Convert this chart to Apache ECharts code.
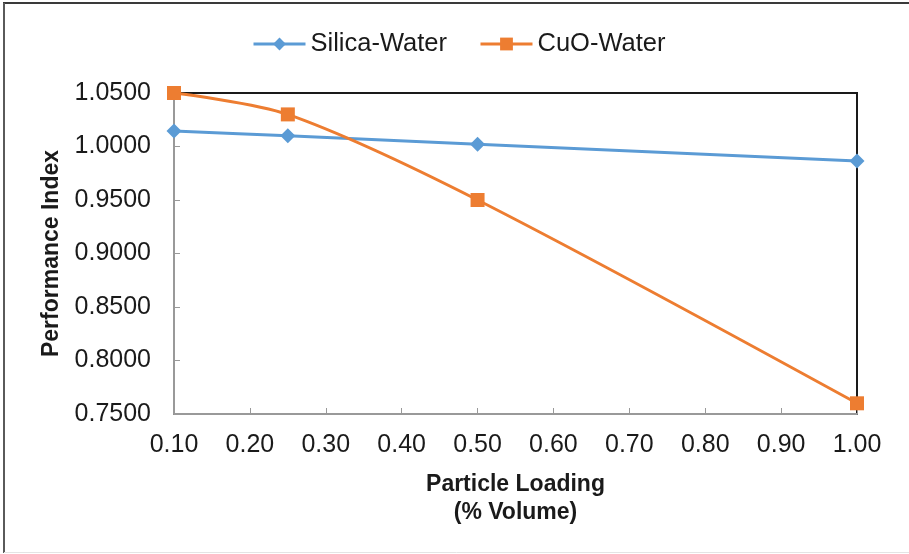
<!DOCTYPE html>
<html>
<head>
<meta charset="utf-8">
<script src="https://cdn.jsdelivr.net/npm/echarts@6/dist/echarts.min.js"></script>
<style>
  html, body { margin: 0; padding: 0; background: #fff; }
  #chart { width: 909px; height: 554px; }
</style>
</head>
<body>
<div id="chart"></div>
<script>
// Particle loading (% volume) and performance index for each nanofluid
const loading = [0.10, 0.25, 0.50, 1.00];
const silicaWater = [1.0145, 1.0100, 1.0020, 0.9865];
const cuoWater = [1.0500, 1.0300, 0.9500, 0.7600];
const seriesNames = ['Silica-Water', 'CuO-Water'];

const pairs = (xs, ys) => xs.map((x, i) => [x, ys[i]]);
const font = '"Liberation Sans", Arial, sans-serif';

const chart = echarts.init(document.getElementById('chart'), null, { renderer: 'canvas' });
chart.setOption({
  animation: false,
  backgroundColor: '#fff',
  graphic: [
    { type: 'line', shape: { x1: 3, y1: 3, x2: 909, y2: 3 }, style: { stroke: '#3a3a3a', lineWidth: 2 }, silent: true },
    { type: 'line', shape: { x1: 4, y1: 3, x2: 4, y2: 553 }, style: { stroke: '#5a5a5a', lineWidth: 2 }, silent: true },
    { type: 'line', shape: { x1: 4, y1: 552.5, x2: 909, y2: 552.5 }, style: { stroke: '#e4e4e4', lineWidth: 1 }, silent: true }
  ],
  legend: {
    top: 26,
    left: 247,
    itemWidth: 52,
    itemHeight: 16,
    itemGap: 32,
    lineStyle: { width: 3 },
    textStyle: { fontFamily: font, fontSize: 25.5, color: '#1a1a1a', padding: [0, 0, 0, 0] },
    data: seriesNames
  },
  grid: {
    left: 174, right: 52, top: 93, bottom: 140,
    show: true, borderColor: '#1a1a1a', borderWidth: 2
  },
  xAxis: {
    type: 'value',
    min: 0.1, max: 1.0, interval: 0.1,
    name: 'Particle Loading\n(% Volume)',
    nameLocation: 'middle',
    nameGap: 57,
    nameTextStyle: { fontFamily: font, fontSize: 23, fontWeight: 'bold', color: '#1a1a1a', lineHeight: 28, verticalAlign: 'top' },
    axisLine: { show: true, lineStyle: { color: '#999', width: 2 } },
    axisTick: { show: true, inside: true, length: 6, lineStyle: { color: '#999', width: 1 } },
    axisLabel: { fontFamily: font, fontSize: 25, color: '#1a1a1a', margin: 19, formatter: v => v.toFixed(2) },
    splitLine: { show: false }
  },
  yAxis: {
    type: 'value',
    min: 0.75, max: 1.05, interval: 0.05,
    name: 'Performance Index',
    nameLocation: 'middle',
    nameGap: 108,
    nameRotate: 90,
    nameTextStyle: { fontFamily: font, fontSize: 23, fontWeight: 'bold', color: '#1a1a1a' },
    axisLine: { show: true, lineStyle: { color: '#999', width: 2 } },
    axisTick: { show: true, inside: true, length: 6, lineStyle: { color: '#999', width: 1 } },
    axisLabel: { fontFamily: font, fontSize: 25, color: '#1a1a1a', margin: 23, formatter: v => v.toFixed(4) },
    splitLine: { show: false }
  },
  series: [
    {
      name: seriesNames[0],
      type: 'line',
      data: pairs(loading, silicaWater),
      smooth: 0.3,
      color: '#5B9BD5',
      lineStyle: { width: 3, color: '#5B9BD5' },
      symbol: 'diamond',
      symbolSize: 15,
      itemStyle: { color: '#5B9BD5' },
      z: 3
    },
    {
      name: seriesNames[1],
      type: 'line',
      data: pairs(loading, cuoWater),
      smooth: 0.3,
      color: '#ED7D31',
      lineStyle: { width: 3, color: '#ED7D31' },
      symbol: 'rect',
      symbolSize: 14,
      itemStyle: { color: '#ED7D31' },
      z: 4
    }
  ]
});
</script>
</body>
</html>
